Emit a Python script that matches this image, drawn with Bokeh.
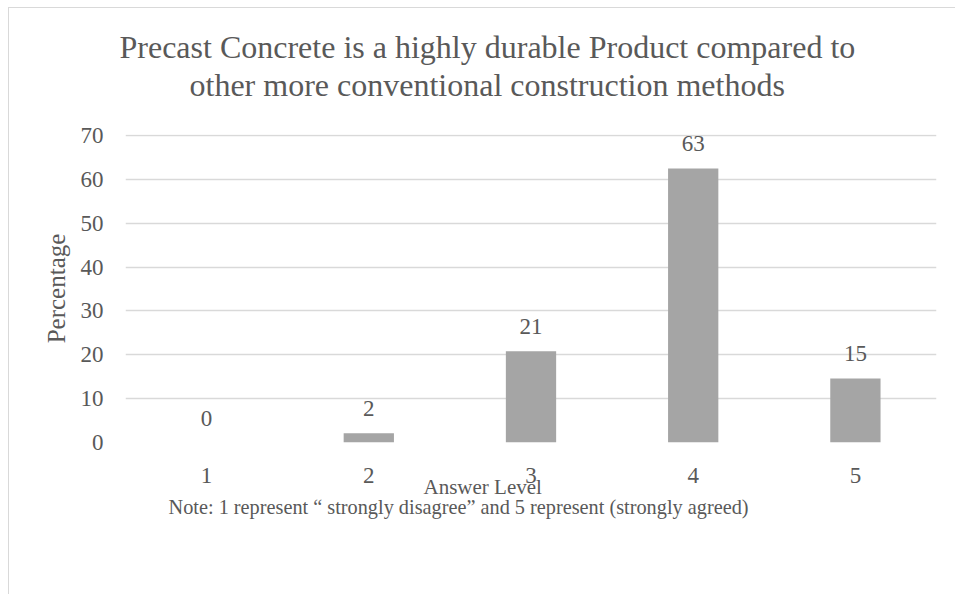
from bokeh.plotting import figure
from bokeh.models import Range1d, FixedTicker, ColumnDataSource, LabelSet, Title
from bokeh.embed import file_html
from bokeh.resources import INLINE
from bokeh.core.properties import value

# ---- data ----
categories = ["1", "2", "3", "4", "5"]
percentages = [0.0, 2.1, 20.8, 62.5, 14.6]
bar_labels = ["0", "2", "21", "63", "15"]
y_ticks = [0, 10, 20, 30, 40, 50, 60, 70]
title_lines = ["Precast Concrete is a highly durable Product compared to",
               "other more conventional construction methods"]
x_title = "Answer Level"
y_title = "Percentage"
note_text = "Note: 1 represent \u201c strongly disagree\u201d and 5 represent (strongly agreed)"

# ---- styling ----
FONT = "Liberation Serif"
TEXT = "#595959"
BAR = "#A5A5A5"
GRID = "#D9D9D9"

W, H = 947, 587
ML, MR, MT, MB = 116, 20, 126, 153
frame_h = H - MT - MB          # 308 px
y_top = y_ticks[-1] * frame_h / (frame_h - 1)   # leave 1px so the top gridline shows

xs = [i + 1 for i in range(len(categories))]
src = ColumnDataSource(dict(x=xs, top=percentages, lab=bar_labels))

p = figure(width=W, height=H, output_backend="svg", toolbar_location=None,
           x_range=Range1d(0.5, len(categories) + 0.5), y_range=Range1d(0, y_top),
           min_border_left=ML, min_border_right=MR, min_border_top=MT, min_border_bottom=MB)
p.outline_line_color = None
p.background_fill_color = "white"
p.border_fill_color = "white"
p.styles = {"margin-left": "8px", "margin-top": "7px",
            "border-left": "1px solid #D9D9D9", "border-top": "1px solid #D9D9D9"}

p.vbar(x="x", top="top", width=0.31, source=src, fill_color=BAR, line_color=None)

p.xgrid.visible = False
p.ygrid.grid_line_color = GRID
p.ygrid.grid_line_width = 1.3

for ax in (p.xaxis, p.yaxis):
    ax.axis_line_color = None
    ax.major_tick_line_color = None
    ax.minor_tick_line_color = None
    ax.major_tick_out = 0
    ax.major_tick_in = 0
    ax.minor_tick_out = 0
    ax.major_label_text_font = FONT
    ax.major_label_text_color = TEXT
    ax.major_label_text_font_size = "23px"

p.xaxis.ticker = FixedTicker(ticks=xs)
p.xaxis.major_label_overrides = {x: c for x, c in zip(xs, categories)}
p.xaxis.major_label_standoff = 25
p.yaxis.ticker = FixedTicker(ticks=y_ticks)
p.yaxis.major_label_standoff = 22
p.yaxis.axis_label = y_title
p.yaxis.axis_label_text_font = FONT
p.yaxis.axis_label_text_font_style = "normal"
p.yaxis.axis_label_text_color = TEXT
p.yaxis.axis_label_text_font_size = "25px"
p.yaxis.axis_label_standoff = 8

labels = LabelSet(x="x", y="top", text="lab", source=src, text_align="center",
                  text_baseline="alphabetic", y_offset=17,
                  text_font=value(FONT), text_font_size="23px", text_color=TEXT)
p.add_layout(labels)

# ---- titles above (innermost first) ----
spacer = Title(text=" ", text_font_size="1px", standoff=29)
p.add_layout(spacer, "above")
p.add_layout(Title(text=title_lines[1], align="left", offset=64, standoff=0,
                   vertical_align="bottom", text_font=FONT, text_font_size="32px",
                   text_font_style="normal", text_color=TEXT), "above")
p.add_layout(Title(text=title_lines[0], align="left", offset=-6, standoff=0,
                   vertical_align="bottom", text_font=FONT, text_font_size="32px",
                   text_font_style="normal", text_color=TEXT), "above")

# ---- texts below ----
p.add_layout(Title(text=x_title, align="left", offset=298, standoff=-22,
                   vertical_align="top", text_font=FONT, text_font_size="21px",
                   text_font_style="normal", text_color=TEXT), "below")
p.add_layout(Title(text=note_text, align="left", offset=43, standoff=13,
                   vertical_align="top", text_font=FONT, text_font_size="20.3px",
                   text_font_style="normal", text_color=TEXT), "below")

open("out.html", "w").write(file_html(p, INLINE))
